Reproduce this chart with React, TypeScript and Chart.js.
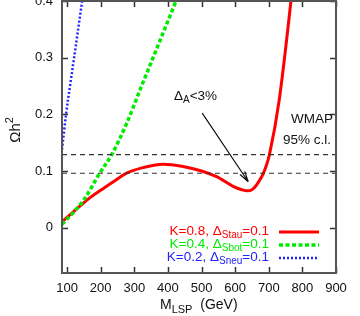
import React, { useEffect, useRef } from "react";
import { Chart, registerables } from "chart.js";
Chart.register(...registerables);

// ---- data ----
const stauX = [85, 100, 125, 162, 200, 240, 273, 320, 386, 445, 500, 545, 594, 620, 636, 650, 662, 674, 684, 693, 702, 731, 766, 780];
const stauY = [0.010, 0.018, 0.031, 0.05, 0.066, 0.082, 0.095, 0.105, 0.112, 0.108, 0.1, 0.09, 0.073, 0.067, 0.065, 0.067, 0.074, 0.085, 0.096, 0.11, 0.129, 0.225, 0.4, 0.48];
const sbotX = [85, 125, 151, 196, 233, 278, 317, 377, 424, 440];
const sbotY = [0.006, 0.031, 0.05, 0.095, 0.129, 0.185, 0.243, 0.331, 0.4, 0.425];
const sneuX = [85, 97, 110, 121, 133, 145, 150];
const sneuY = [0.138, 0.2, 0.255, 0.3, 0.35, 0.4, 0.42];
const wmapLow = 0.096;
const wmapHigh = 0.129;
const xRange = [85, 900];
const yRange = [-0.08, 0.4];
const xTicks = [100, 200, 300, 400, 500, 600, 700, 800, 900];
const yTicks = [0, 0.1, 0.2, 0.3, 0.4];
const arrowFrom = [502, 0.202];
const arrowTo = [639, 0.081];
const labelPos = [418, 0.232];

const RED = "rgb(255,0,0)";
const GREEN = "rgb(0,235,0)";
const BLUE = "rgb(35,35,255)";
const FONT = "'Liberation Sans', Arial, Helvetica, sans-serif";

type Part = { t: string; s?: "sub" | "sup" };

function partFont(size: number, p: Part) {
  const sz = p.s ? Math.round(size * 0.75) : size;
  return `${sz}px ${FONT}`;
}
function richWidth(ctx: CanvasRenderingContext2D, parts: Part[], size: number) {
  let w = 0;
  for (const p of parts) {
    ctx.font = partFont(size, p);
    w += ctx.measureText(p.t).width;
  }
  return w;
}
function drawRich(ctx: CanvasRenderingContext2D, parts: Part[], x: number, y: number, size: number, align: "left" | "right" | "center", color: string) {
  const w = richWidth(ctx, parts, size);
  let cx = align === "left" ? x : align === "right" ? x - w : x - w / 2;
  ctx.fillStyle = color;
  ctx.textBaseline = "middle";
  ctx.textAlign = "left";
  for (const p of parts) {
    ctx.font = partFont(size, p);
    const dy = p.s === "sub" ? size * 0.32 : p.s === "sup" ? -size * 0.4 : 0;
    ctx.fillText(p.t, cx, y + dy);
    cx += ctx.measureText(p.t).width;
  }
}

const decor = {
  id: "decor",
  afterDatasetsDraw(chart: any) {
    const ctx: CanvasRenderingContext2D = chart.ctx;
    const a = chart.chartArea;
    const xs = chart.scales.x;
    const ys = chart.scales.y;
    ctx.save();
    // ticks (inward)
    ctx.strokeStyle = "#333";
    ctx.lineWidth = 1.5;
    ctx.beginPath();
    for (const v of yTicks) {
      const py = Math.round(ys.getPixelForValue(v)) + 0.5;
      ctx.moveTo(a.left, py); ctx.lineTo(a.left + 6, py);
      ctx.moveTo(a.right, py); ctx.lineTo(a.right - 6, py);
    }
    for (const v of xTicks) {
      const px = Math.round(xs.getPixelForValue(v)) + 0.5;
      ctx.moveTo(px, a.bottom); ctx.lineTo(px, a.bottom - 6);
      ctx.moveTo(px, a.top); ctx.lineTo(px, a.top + 6);
    }
    ctx.stroke();
    // frame
    ctx.strokeStyle = "#555";
    ctx.lineWidth = 2;
    ctx.strokeRect(a.left, a.top, a.right - a.left, a.bottom - a.top);

    // arrow
    const x1 = xs.getPixelForValue(arrowFrom[0]);
    const y1 = ys.getPixelForValue(arrowFrom[1]);
    const x2 = xs.getPixelForValue(arrowTo[0]);
    const y2 = ys.getPixelForValue(arrowTo[1]);
    ctx.strokeStyle = "#111";
    ctx.lineWidth = 1.2;
    ctx.beginPath();
    ctx.moveTo(x1, y1); ctx.lineTo(x2, y2);
    const ang = Math.atan2(y2 - y1, x2 - x1);
    const L = 11, sp = 0.26;
    ctx.moveTo(x2, y2); ctx.lineTo(x2 - L * Math.cos(ang - sp), y2 - L * Math.sin(ang - sp));
    ctx.moveTo(x2, y2); ctx.lineTo(x2 - L * Math.cos(ang + sp), y2 - L * Math.sin(ang + sp));
    ctx.stroke();

    // annotation text
    drawRich(ctx, [{ t: "Δ" }, { t: "A", s: "sub" }, { t: "<3%" }],
      xs.getPixelForValue(labelPos[0]), ys.getPixelForValue(labelPos[1]), 13.5, "left", "#111");
    drawRich(ctx, [{ t: "WMAP" }], a.right - 3, 119, 13.5, "right", "#111");
    drawRich(ctx, [{ t: "95% c.l." }], a.right - 5, 140, 13.5, "right", "#111");

    // legend
    const rows: { parts: Part[]; color: string; dash: number[]; w: number }[] = [
      { parts: [{ t: "K=0.8, Δ" }, { t: "Stau", s: "sub" }, { t: "=0.1" }], color: RED, dash: [], w: 3 },
      { parts: [{ t: "K=0.4, Δ" }, { t: "Sbot", s: "sub" }, { t: "=0.1" }], color: GREEN, dash: [4, 2.5], w: 3.5 },
      { parts: [{ t: "K=0.2, Δ" }, { t: "Sneu", s: "sub" }, { t: "=0.1" }], color: BLUE, dash: [2, 2], w: 2.5 },
    ];
    const rowY = [232, 245, 258];
    rows.forEach((r, i) => {
      drawRich(ctx, r.parts, 269, rowY[i] - 1, 13.5, "right", r.color);
      ctx.strokeStyle = r.color;
      ctx.lineWidth = r.w;
      ctx.setLineDash(r.dash);
      ctx.beginPath();
      ctx.moveTo(279, rowY[i]); ctx.lineTo(319, rowY[i]);
      ctx.stroke();
      ctx.setLineDash([]);
    });

    // axis titles
    drawRich(ctx, [{ t: "M" }, { t: "LSP", s: "sub" }, { t: "  (GeV)" }], 160, 305, 14, "left", "#111");
    ctx.translate(16, 130);
    ctx.rotate(-Math.PI / 2);
    drawRich(ctx, [{ t: "Ωh" }, { t: "2", s: "sup" }], 0, 0, 15, "center", "#111");
    ctx.restore();
  },
};

const toPts = (xs: number[], ys: number[]) => xs.map((x, i) => ({ x, y: ys[i] }));

export default function App() {
  const ref = useRef<HTMLCanvasElement>(null);
  useEffect(() => {
    const chart = new Chart(ref.current!, {
      type: "line",
      data: {
        datasets: [
          { data: toPts(xRange, [wmapHigh, wmapHigh]), borderColor: "#333", borderWidth: 1.2, borderDash: [5, 4], pointRadius: 0 },
          { data: toPts(xRange, [wmapLow, wmapLow]), borderColor: "#333", borderWidth: 1.2, borderDash: [5, 4], pointRadius: 0 },
          { data: toPts(sneuX, sneuY), borderColor: BLUE, borderWidth: 2.5, borderDash: [2, 2], pointRadius: 0, cubicInterpolationMode: "monotone" },
          { data: toPts(sbotX, sbotY), borderColor: GREEN, borderWidth: 3.5, borderDash: [4, 2.5], pointRadius: 0, cubicInterpolationMode: "monotone" },
          { data: toPts(stauX, stauY), borderColor: RED, borderWidth: 3, pointRadius: 0, cubicInterpolationMode: "monotone" },
        ] as any,
      },
      options: {
        animation: false,
        responsive: false,
        devicePixelRatio: 1,
        layout: { padding: { top: 1, right: 24, left: 0, bottom: 0 }, autoPadding: false },
        plugins: { legend: { display: false }, tooltip: { enabled: false } },
        scales: {
          x: {
            type: "linear",
            min: xRange[0],
            max: xRange[1],
            grid: { display: false, drawTicks: false },
            border: { display: false },
            afterBuildTicks: (s: any) => { s.ticks = xTicks.map((v) => ({ value: v })); },
            afterFit: (s: any) => { s.height = 43; s.paddingLeft = 0; s.paddingRight = 0; },
            ticks: { autoSkip: false, maxRotation: 0, padding: 8, color: "#111", font: { size: 13, family: FONT } },
          },
          y: {
            type: "linear",
            min: yRange[0],
            max: yRange[1],
            grid: { display: false, drawTicks: false },
            border: { display: false },
            afterBuildTicks: (s: any) => { s.ticks = yTicks.map((v) => ({ value: v })); },
            afterFit: (s: any) => { s.width = 62; s.paddingTop = 0; s.paddingBottom = 0; },
            ticks: {
              padding: 9, color: "#111", font: { size: 13, family: FONT },
              callback: (v: any) => (v === 0 ? "0" : Number(v).toFixed(1)),
            },
          },
        },
      },
      plugins: [decor],
    } as any);
    return () => chart.destroy();
  }, []);
  return (
    <div style={{ position: "fixed", left: 0, top: 0, width: 360, height: 316, background: "#fff" }}>
      <canvas ref={ref} width={360} height={316} style={{ display: "block" }} />
    </div>
  );
}
